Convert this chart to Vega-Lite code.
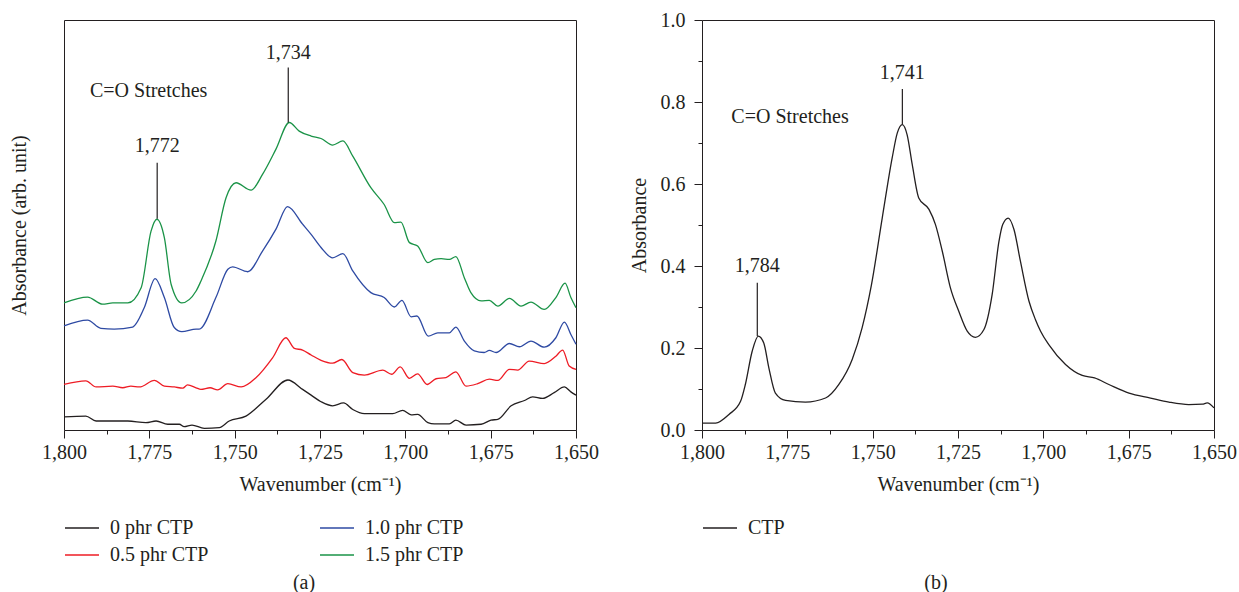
{
  "$schema": "https://vega.github.io/schema/vega-lite/v6.json",
  "background": "white",
  "padding": {"left": 8, "top": 9, "right": 5, "bottom": 5},
  "spacing": 126,
  "bounds": "flush",
  "config": {
    "font": "Liberation Serif",
    "view": {"stroke": "#231f20", "strokeWidth": 1},
    "axis": {"labelFont": "Liberation Serif", "titleFont": "Liberation Serif", "labelFontSize": 20, "titleFontSize": 20, "labelColor": "#231f20", "titleColor": "#231f20", "titleFontWeight": "normal", "grid": false, "domain": false, "tickColor": "#231f20", "tickWidth": 1, "labelFlush": false, "labelOverlap": false},
    "legend": {"labelFont": "Liberation Serif", "labelFontSize": 20, "labelColor": "#231f20", "symbolType": "stroke", "symbolSize": 1156, "symbolStrokeWidth": 1.5, "labelOffset": 10, "padding": 0, "clipHeight": 20, "rowPadding": 7, "columnPadding": 110, "orient": "none", "legendX": 0, "legendY": 498},
    "title": {"font": "Liberation Serif", "fontSize": 20, "fontWeight": "normal", "color": "#231f20"}
  },
  "datasets": {
    "left": [
      {"w":1800,"v":31.0,"s":"1.5 phr CTP"},{"w":1793.1,"v":32.4,"s":"1.5 phr CTP"},{"w":1788.7,"v":30.7,"s":"1.5 phr CTP"},{"w":1785.7,"v":31.0,"s":"1.5 phr CTP"},{"w":1781.3,"v":31.0,"s":"1.5 phr CTP"},{"w":1777.4,"v":34.7,"s":"1.5 phr CTP"},{"w":1774.5,"v":48.5,"s":"1.5 phr CTP"},{"w":1772.8,"v":51.4,"s":"1.5 phr CTP"},{"w":1770.6,"v":46.9,"s":"1.5 phr CTP"},{"w":1768.6,"v":35.5,"s":"1.5 phr CTP"},{"w":1765.5,"v":31.0,"s":"1.5 phr CTP"},{"w":1761.3,"v":33.9,"s":"1.5 phr CTP"},{"w":1759.9,"v":36.3,"s":"1.5 phr CTP"},{"w":1755.5,"v":46.1,"s":"1.5 phr CTP"},{"w":1752.5,"v":56.7,"s":"1.5 phr CTP"},{"w":1749.6,"v":60.3,"s":"1.5 phr CTP"},{"w":1745.2,"v":58.5,"s":"1.5 phr CTP"},{"w":1741.8,"v":62.4,"s":"1.5 phr CTP"},{"w":1737.9,"v":68.5,"s":"1.5 phr CTP"},{"w":1734.0,"v":75.0,"s":"1.5 phr CTP"},{"w":1731.1,"v":72.9,"s":"1.5 phr CTP"},{"w":1727.6,"v":71.7,"s":"1.5 phr CTP"},{"w":1724.7,"v":71.1,"s":"1.5 phr CTP"},{"w":1721.3,"v":69.5,"s":"1.5 phr CTP"},{"w":1718.3,"v":70.5,"s":"1.5 phr CTP"},{"w":1715.4,"v":66.8,"s":"1.5 phr CTP"},{"w":1710.1,"v":59.1,"s":"1.5 phr CTP"},{"w":1706.2,"v":55.0,"s":"1.5 phr CTP"},{"w":1703.2,"v":50.6,"s":"1.5 phr CTP"},{"w":1701.3,"v":50.7,"s":"1.5 phr CTP"},{"w":1698.8,"v":45.7,"s":"1.5 phr CTP"},{"w":1696.4,"v":44.9,"s":"1.5 phr CTP"},{"w":1693.4,"v":40.8,"s":"1.5 phr CTP"},{"w":1691.5,"v":41.6,"s":"1.5 phr CTP"},{"w":1689.5,"v":41.8,"s":"1.5 phr CTP"},{"w":1687.1,"v":41.6,"s":"1.5 phr CTP"},{"w":1685.2,"v":42.3,"s":"1.5 phr CTP"},{"w":1682.7,"v":37.1,"s":"1.5 phr CTP"},{"w":1680.8,"v":33.5,"s":"1.5 phr CTP"},{"w":1677.8,"v":31.5,"s":"1.5 phr CTP"},{"w":1675.4,"v":31.6,"s":"1.5 phr CTP"},{"w":1672.9,"v":30.2,"s":"1.5 phr CTP"},{"w":1669.5,"v":32.1,"s":"1.5 phr CTP"},{"w":1666.1,"v":30.2,"s":"1.5 phr CTP"},{"w":1663.2,"v":31.2,"s":"1.5 phr CTP"},{"w":1659.3,"v":29.4,"s":"1.5 phr CTP"},{"w":1655.9,"v":32.3,"s":"1.5 phr CTP"},{"w":1653.2,"v":35.8,"s":"1.5 phr CTP"},{"w":1651.5,"v":32.3,"s":"1.5 phr CTP"},{"w":1650,"v":29.8,"s":"1.5 phr CTP"},
      {"w":1800,"v":25.4,"s":"1.0 phr CTP"},{"w":1793.1,"v":26.8,"s":"1.0 phr CTP"},{"w":1789.2,"v":24.8,"s":"1.0 phr CTP"},{"w":1785.3,"v":24.6,"s":"1.0 phr CTP"},{"w":1779.9,"v":25.1,"s":"1.0 phr CTP"},{"w":1776.5,"v":29.8,"s":"1.0 phr CTP"},{"w":1773.3,"v":36.9,"s":"1.0 phr CTP"},{"w":1770.6,"v":32.3,"s":"1.0 phr CTP"},{"w":1767.7,"v":25.0,"s":"1.0 phr CTP"},{"w":1765.5,"v":24.0,"s":"1.0 phr CTP"},{"w":1761.3,"v":24.6,"s":"1.0 phr CTP"},{"w":1760.4,"v":24.6,"s":"1.0 phr CTP"},{"w":1755.5,"v":32.3,"s":"1.0 phr CTP"},{"w":1752.0,"v":39.2,"s":"1.0 phr CTP"},{"w":1750.6,"v":39.8,"s":"1.0 phr CTP"},{"w":1746.2,"v":38.6,"s":"1.0 phr CTP"},{"w":1741.8,"v":43.7,"s":"1.0 phr CTP"},{"w":1737.9,"v":49.0,"s":"1.0 phr CTP"},{"w":1734.5,"v":54.5,"s":"1.0 phr CTP"},{"w":1730.1,"v":50.2,"s":"1.0 phr CTP"},{"w":1727.6,"v":47.7,"s":"1.0 phr CTP"},{"w":1724.7,"v":44.5,"s":"1.0 phr CTP"},{"w":1721.3,"v":42.0,"s":"1.0 phr CTP"},{"w":1718.3,"v":43.0,"s":"1.0 phr CTP"},{"w":1715.4,"v":38.8,"s":"1.0 phr CTP"},{"w":1710.1,"v":33.5,"s":"1.0 phr CTP"},{"w":1706.2,"v":32.3,"s":"1.0 phr CTP"},{"w":1703.2,"v":30.0,"s":"1.0 phr CTP"},{"w":1701.0,"v":31.6,"s":"1.0 phr CTP"},{"w":1698.3,"v":27.6,"s":"1.0 phr CTP"},{"w":1696.6,"v":27.8,"s":"1.0 phr CTP"},{"w":1693.3,"v":22.9,"s":"1.0 phr CTP"},{"w":1690.5,"v":23.7,"s":"1.0 phr CTP"},{"w":1687.1,"v":23.7,"s":"1.0 phr CTP"},{"w":1685.2,"v":25.1,"s":"1.0 phr CTP"},{"w":1682.7,"v":21.7,"s":"1.0 phr CTP"},{"w":1679.8,"v":19.3,"s":"1.0 phr CTP"},{"w":1676.9,"v":18.9,"s":"1.0 phr CTP"},{"w":1675.4,"v":19.4,"s":"1.0 phr CTP"},{"w":1673.4,"v":18.9,"s":"1.0 phr CTP"},{"w":1669.5,"v":21.1,"s":"1.0 phr CTP"},{"w":1666.6,"v":20.3,"s":"1.0 phr CTP"},{"w":1663.2,"v":21.7,"s":"1.0 phr CTP"},{"w":1659.3,"v":20.2,"s":"1.0 phr CTP"},{"w":1655.9,"v":22.5,"s":"1.0 phr CTP"},{"w":1653.4,"v":26.3,"s":"1.0 phr CTP"},{"w":1651.5,"v":23.3,"s":"1.0 phr CTP"},{"w":1650,"v":20.9,"s":"1.0 phr CTP"},
      {"w":1800,"v":11.1,"s":"0.5 phr CTP"},{"w":1793.6,"v":12.0,"s":"0.5 phr CTP"},{"w":1790.6,"v":10.5,"s":"0.5 phr CTP"},{"w":1785.7,"v":10.7,"s":"0.5 phr CTP"},{"w":1782.8,"v":10.3,"s":"0.5 phr CTP"},{"w":1780.4,"v":10.7,"s":"0.5 phr CTP"},{"w":1777.9,"v":10.5,"s":"0.5 phr CTP"},{"w":1773.5,"v":12.1,"s":"0.5 phr CTP"},{"w":1770.6,"v":10.7,"s":"0.5 phr CTP"},{"w":1767.7,"v":10.5,"s":"0.5 phr CTP"},{"w":1765.2,"v":10.2,"s":"0.5 phr CTP"},{"w":1763.8,"v":11.0,"s":"0.5 phr CTP"},{"w":1761.3,"v":10.3,"s":"0.5 phr CTP"},{"w":1759.9,"v":9.9,"s":"0.5 phr CTP"},{"w":1757.2,"v":10.3,"s":"0.5 phr CTP"},{"w":1755.0,"v":9.8,"s":"0.5 phr CTP"},{"w":1752.0,"v":11.3,"s":"0.5 phr CTP"},{"w":1748.1,"v":10.5,"s":"0.5 phr CTP"},{"w":1743.7,"v":12.8,"s":"0.5 phr CTP"},{"w":1738.9,"v":17.6,"s":"0.5 phr CTP"},{"w":1735.0,"v":22.5,"s":"0.5 phr CTP"},{"w":1732.5,"v":19.9,"s":"0.5 phr CTP"},{"w":1730.1,"v":19.5,"s":"0.5 phr CTP"},{"w":1727.6,"v":18.3,"s":"0.5 phr CTP"},{"w":1724.7,"v":17.0,"s":"0.5 phr CTP"},{"w":1721.3,"v":16.3,"s":"0.5 phr CTP"},{"w":1718.6,"v":17.2,"s":"0.5 phr CTP"},{"w":1715.4,"v":14.0,"s":"0.5 phr CTP"},{"w":1712.0,"v":13.4,"s":"0.5 phr CTP"},{"w":1706.6,"v":14.6,"s":"0.5 phr CTP"},{"w":1704.0,"v":13.6,"s":"0.5 phr CTP"},{"w":1701.5,"v":15.4,"s":"0.5 phr CTP"},{"w":1698.8,"v":12.6,"s":"0.5 phr CTP"},{"w":1696.4,"v":13.7,"s":"0.5 phr CTP"},{"w":1693.6,"v":11.1,"s":"0.5 phr CTP"},{"w":1691.0,"v":12.5,"s":"0.5 phr CTP"},{"w":1688.1,"v":12.8,"s":"0.5 phr CTP"},{"w":1685.2,"v":14.2,"s":"0.5 phr CTP"},{"w":1682.2,"v":10.7,"s":"0.5 phr CTP"},{"w":1678.8,"v":11.3,"s":"0.5 phr CTP"},{"w":1675.4,"v":12.4,"s":"0.5 phr CTP"},{"w":1672.9,"v":12.1,"s":"0.5 phr CTP"},{"w":1669.5,"v":14.8,"s":"0.5 phr CTP"},{"w":1667.1,"v":14.6,"s":"0.5 phr CTP"},{"w":1663.7,"v":16.8,"s":"0.5 phr CTP"},{"w":1659.3,"v":16.2,"s":"0.5 phr CTP"},{"w":1655.9,"v":18.0,"s":"0.5 phr CTP"},{"w":1653.9,"v":19.5,"s":"0.5 phr CTP"},{"w":1652.0,"v":15.6,"s":"0.5 phr CTP"},{"w":1650,"v":14.8,"s":"0.5 phr CTP"},
      {"w":1800,"v":3.2,"s":"0 phr CTP"},{"w":1793.6,"v":3.4,"s":"0 phr CTP"},{"w":1790.6,"v":2.2,"s":"0 phr CTP"},{"w":1781.3,"v":2.2,"s":"0 phr CTP"},{"w":1776.0,"v":1.8,"s":"0 phr CTP"},{"w":1773.0,"v":2.2,"s":"0 phr CTP"},{"w":1769.6,"v":1.4,"s":"0 phr CTP"},{"w":1766.2,"v":1.4,"s":"0 phr CTP"},{"w":1764.8,"v":0.8,"s":"0 phr CTP"},{"w":1762.5,"v":1.2,"s":"0 phr CTP"},{"w":1758.9,"v":0.4,"s":"0 phr CTP"},{"w":1754.5,"v":0.6,"s":"0 phr CTP"},{"w":1751.6,"v":2.2,"s":"0 phr CTP"},{"w":1746.7,"v":3.4,"s":"0 phr CTP"},{"w":1740.8,"v":7.5,"s":"0 phr CTP"},{"w":1734.4,"v":12.2,"s":"0 phr CTP"},{"w":1730.1,"v":9.9,"s":"0 phr CTP"},{"w":1727.6,"v":8.5,"s":"0 phr CTP"},{"w":1724.7,"v":6.9,"s":"0 phr CTP"},{"w":1721.3,"v":5.9,"s":"0 phr CTP"},{"w":1718.1,"v":6.6,"s":"0 phr CTP"},{"w":1715.4,"v":5.0,"s":"0 phr CTP"},{"w":1712.0,"v":4.0,"s":"0 phr CTP"},{"w":1703.7,"v":4.0,"s":"0 phr CTP"},{"w":1700.8,"v":4.8,"s":"0 phr CTP"},{"w":1698.3,"v":3.7,"s":"0 phr CTP"},{"w":1696.4,"v":3.8,"s":"0 phr CTP"},{"w":1693.4,"v":1.8,"s":"0 phr CTP"},{"w":1691.5,"v":1.5,"s":"0 phr CTP"},{"w":1687.1,"v":1.5,"s":"0 phr CTP"},{"w":1685.2,"v":2.4,"s":"0 phr CTP"},{"w":1682.2,"v":1.2,"s":"0 phr CTP"},{"w":1677.8,"v":1.4,"s":"0 phr CTP"},{"w":1674.9,"v":2.4,"s":"0 phr CTP"},{"w":1672.9,"v":2.6,"s":"0 phr CTP"},{"w":1669.0,"v":5.9,"s":"0 phr CTP"},{"w":1665.1,"v":7.2,"s":"0 phr CTP"},{"w":1662.7,"v":8.1,"s":"0 phr CTP"},{"w":1659.8,"v":7.7,"s":"0 phr CTP"},{"w":1656.4,"v":9.1,"s":"0 phr CTP"},{"w":1653.4,"v":10.5,"s":"0 phr CTP"},{"w":1651.5,"v":9.3,"s":"0 phr CTP"},{"w":1650,"v":8.5,"s":"0 phr CTP"}
    ],
    "leftRules": [{"w":1772.7,"v":65.2,"v2":51.5},{"w":1734.3,"v":88.4,"v2":75.0}],
    "leftPeaks": [{"w":1772.7,"v":69.2,"t":"1,772"},{"w":1734.3,"v":92.0,"t":"1,734"}],
    "leftNote": [{"w":1792.4,"v":82.7,"t":"C=O Stretches"}],
    "right": [
      {"w":1800,"a":0.017,"s":"CTP"},{"w":1796.0,"a":0.017,"s":"CTP"},{"w":1792.1,"a":0.038,"s":"CTP"},{"w":1788.7,"a":0.070,"s":"CTP"},{"w":1787.3,"a":0.111,"s":"CTP"},{"w":1785.3,"a":0.192,"s":"CTP"},{"w":1783.5,"a":0.229,"s":"CTP"},{"w":1781.9,"a":0.212,"s":"CTP"},{"w":1780.4,"a":0.151,"s":"CTP"},{"w":1778.5,"a":0.090,"s":"CTP"},{"w":1775.5,"a":0.072,"s":"CTP"},{"w":1769.7,"a":0.068,"s":"CTP"},{"w":1763.8,"a":0.078,"s":"CTP"},{"w":1759.9,"a":0.111,"s":"CTP"},{"w":1756.0,"a":0.172,"s":"CTP"},{"w":1753.1,"a":0.249,"s":"CTP"},{"w":1750.4,"a":0.352,"s":"CTP"},{"w":1747.2,"a":0.517,"s":"CTP"},{"w":1744.3,"a":0.663,"s":"CTP"},{"w":1742.8,"a":0.724,"s":"CTP"},{"w":1741.3,"a":0.745,"s":"CTP"},{"w":1739.9,"a":0.720,"s":"CTP"},{"w":1738.4,"a":0.647,"s":"CTP"},{"w":1736.5,"a":0.566,"s":"CTP"},{"w":1733.5,"a":0.538,"s":"CTP"},{"w":1731.6,"a":0.501,"s":"CTP"},{"w":1729.6,"a":0.436,"s":"CTP"},{"w":1727.2,"a":0.346,"s":"CTP"},{"w":1724.8,"a":0.290,"s":"CTP"},{"w":1722.3,"a":0.241,"s":"CTP"},{"w":1719.9,"a":0.226,"s":"CTP"},{"w":1717.4,"a":0.245,"s":"CTP"},{"w":1715.0,"a":0.330,"s":"CTP"},{"w":1713.0,"a":0.460,"s":"CTP"},{"w":1711.9,"a":0.501,"s":"CTP"},{"w":1710.3,"a":0.517,"s":"CTP"},{"w":1708.6,"a":0.489,"s":"CTP"},{"w":1706.7,"a":0.411,"s":"CTP"},{"w":1704.2,"a":0.314,"s":"CTP"},{"w":1702.3,"a":0.269,"s":"CTP"},{"w":1700.8,"a":0.241,"s":"CTP"},{"w":1698.4,"a":0.208,"s":"CTP"},{"w":1693.5,"a":0.160,"s":"CTP"},{"w":1688.6,"a":0.133,"s":"CTP"},{"w":1685.0,"a":0.127,"s":"CTP"},{"w":1680.8,"a":0.111,"s":"CTP"},{"w":1674.9,"a":0.090,"s":"CTP"},{"w":1668.6,"a":0.078,"s":"CTP"},{"w":1663.2,"a":0.068,"s":"CTP"},{"w":1657.4,"a":0.062,"s":"CTP"},{"w":1653.4,"a":0.063,"s":"CTP"},{"w":1652.0,"a":0.066,"s":"CTP"},{"w":1650,"a":0.054,"s":"CTP"}
    ],
    "rightRules": [{"w":1741.3,"a":0.832,"a2":0.745},{"w":1783.8,"a":0.359,"a2":0.229}],
    "rightPeaks": [{"w":1741.3,"a":0.871,"t":"1,741"},{"w":1783.8,"a":0.399,"t":"1,784"}],
    "rightNote": [{"w":1791.4,"a":0.763,"t":"C=O Stretches"}]
  },
  "hconcat": [
    {
      "width": 512,
      "height": 410,
      "title": {"text": "(a)", "orient": "bottom", "anchor": "middle", "offset": 8, "dx": -16},
      "layer": [
        {
          "data": {"name": "left"},
          "mark": {"type": "line", "interpolate": "monotone", "strokeWidth": 1.3},
          "encoding": {
            "x": {"field": "w", "type": "quantitative",
              "scale": {"domain": [1650, 1800], "reverse": true, "nice": false, "zero": false},
              "axis": {"title": "Wavenumber (cm⁻¹)", "values": [1800,1787.5,1775,1762.5,1750,1737.5,1725,1712.5,1700,1687.5,1675,1662.5,1650],
                "labelExpr": "datum.value % 25 === 0 ? format(datum.value, ',') : ''",
                "tickSize": {"condition": {"test": "datum.value % 25 === 0", "value": 8}, "value": 4},
                "labelPadding": 4, "titlePadding": 12}},
            "y": {"field": "v", "type": "quantitative",
              "scale": {"domain": [0, 100], "nice": false, "zero": false},
              "axis": {"title": "Absorbance (arb. unit)", "labels": false, "ticks": false, "titlePadding": 35}},
            "color": {"field": "s", "type": "nominal",
              "scale": {"domain": ["0 phr CTP", "0.5 phr CTP", "1.0 phr CTP", "1.5 phr CTP"], "range": ["#231f20", "#ee1c25", "#2e4aa3", "#1a9347"]},
              "legend": {"title": null, "columns": 2}},
            "order": {"field": "w", "sort": "descending"}
          }
        },
        {
          "data": {"name": "leftRules"},
          "mark": {"type": "rule", "color": "#231f20", "strokeWidth": 1.2},
          "encoding": {
            "x": {"field": "w", "type": "quantitative"},
            "y": {"field": "v", "type": "quantitative"},
            "y2": {"field": "v2"}
          }
        },
        {
          "data": {"name": "leftPeaks"},
          "mark": {"type": "text", "font": "Liberation Serif", "fontSize": 20, "color": "#231f20", "align": "center", "baseline": "middle"},
          "encoding": {
            "x": {"field": "w", "type": "quantitative"},
            "y": {"field": "v", "type": "quantitative"},
            "text": {"field": "t"}
          }
        },
        {
          "data": {"name": "leftNote"},
          "mark": {"type": "text", "font": "Liberation Serif", "fontSize": 20, "color": "#231f20", "align": "left", "baseline": "middle"},
          "encoding": {
            "x": {"field": "w", "type": "quantitative"},
            "y": {"field": "v", "type": "quantitative"},
            "text": {"field": "t"}
          }
        }
      ]
    },
    {
      "width": 512,
      "height": 410,
      "title": {"text": "(b)", "orient": "bottom", "anchor": "middle", "offset": 35, "dx": -22},
      "layer": [
        {
          "data": {"name": "right"},
          "mark": {"type": "line", "interpolate": "monotone", "strokeWidth": 1.3},
          "encoding": {
            "x": {"field": "w", "type": "quantitative",
              "scale": {"domain": [1650, 1800], "reverse": true, "nice": false, "zero": false},
              "axis": {"title": "Wavenumber (cm⁻¹)", "values": [1800,1787.5,1775,1762.5,1750,1737.5,1725,1712.5,1700,1687.5,1675,1662.5,1650],
                "labelExpr": "datum.value % 25 === 0 ? format(datum.value, ',') : ''",
                "tickSize": {"condition": {"test": "datum.value % 25 === 0", "value": 8}, "value": 4},
                "labelPadding": 4, "titlePadding": 12}},
            "y": {"field": "a", "type": "quantitative",
              "scale": {"domain": [0, 1], "nice": false, "zero": false},
              "axis": {"title": "Absorbance", "values": [0,0.1,0.2,0.3,0.4,0.5,0.6,0.7,0.8,0.9,1.0],
                "labelExpr": "round(datum.value*10) % 2 === 0 ? format(datum.value, '.1f') : ''",
                "tickSize": {"condition": {"test": "round(datum.value*10) % 2 === 0", "value": 8}, "value": 4},
                "labelPadding": 9, "titlePadding": 11}},
            "color": {"field": "s", "type": "nominal",
              "scale": {"domain": ["CTP"], "range": ["#231f20"]},
              "legend": {"title": null}},
            "order": {"field": "w", "sort": "descending"}
          }
        },
        {
          "data": {"name": "rightRules"},
          "mark": {"type": "rule", "color": "#231f20", "strokeWidth": 1.2},
          "encoding": {
            "x": {"field": "w", "type": "quantitative"},
            "y": {"field": "a", "type": "quantitative"},
            "y2": {"field": "a2"}
          }
        },
        {
          "data": {"name": "rightPeaks"},
          "mark": {"type": "text", "font": "Liberation Serif", "fontSize": 20, "color": "#231f20", "align": "center", "baseline": "middle"},
          "encoding": {
            "x": {"field": "w", "type": "quantitative"},
            "y": {"field": "a", "type": "quantitative"},
            "text": {"field": "t"}
          }
        },
        {
          "data": {"name": "rightNote"},
          "mark": {"type": "text", "font": "Liberation Serif", "fontSize": 20, "color": "#231f20", "align": "left", "baseline": "middle"},
          "encoding": {
            "x": {"field": "w", "type": "quantitative"},
            "y": {"field": "a", "type": "quantitative"},
            "text": {"field": "t"}
          }
        }
      ],
      "resolve": {"scale": {"color": "independent"}}
    }
  ],
  "resolve": {"scale": {"color": "independent"}, "legend": {"color": "independent"}}
}
